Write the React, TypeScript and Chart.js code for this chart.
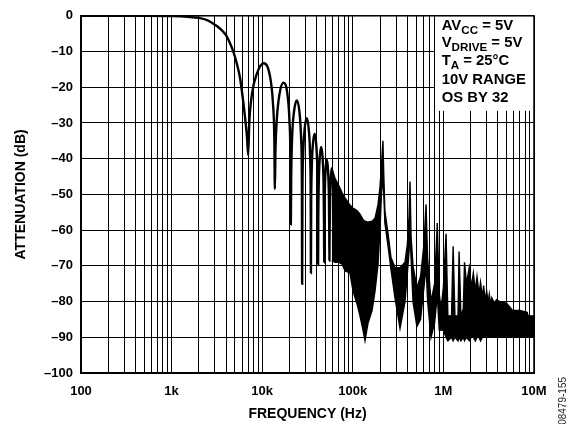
import React, { useEffect, useRef } from 'react';
import { Chart, registerables } from 'chart.js';

Chart.register(...registerables);

// Clearly resolved part of the response (passband, main lobe and the first side lobes)
const LOBE_FREQ = [
  100, 500, 1000, 1500, 2000, 2500, 3000, 3500, 4000, 4400, 4800, 5200, 5700, 6100, 6500, 6800,
  7000, 7200, 7700, 8700, 10400, 12100, 13100, 13600,
  13800, 14000, 14500, 15500, 17200, 19000, 20000, 20500,
  20700, 20900, 21400, 22400, 24100, 25800, 26900, 27400,
  27600, 27800, 28300, 29300, 31000, 32700, 33800, 34300,
  34500, 34700, 35200, 36200, 37900, 39600, 40700, 41200,
  41400, 41600, 42100, 43100, 44800, 46500, 47600, 48100,
  48300, 48500, 49000, 50000, 51700, 53400, 54500, 55000,
  55200, 55400, 56000, 57000, 58600, 60200, 61200, 61900, 62100,
];
const LOBE_DB = [
  0, 0, -0.1, -0.3, -0.6, -1.3, -2.5, -3.8, -5.5, -7.6, -10, -13, -17.5, -23, -29, -34,
  -39, -30, -22, -16.3, -13.3, -16.5, -24, -34,
  -48.5, -38, -29, -22, -18.7, -22, -29.5, -40,
  -58.4, -45, -34, -27, -23.7, -27, -34.5, -46,
  -75, -50, -39, -32, -28.7, -32, -39.5, -51,
  -72, -54, -43, -36.3, -33, -36.5, -44, -55,
  -69.5, -57, -47, -40, -36.7, -40, -47.5, -58,
  -69, -60, -50.5, -43.6, -40.3, -43.6, -51, -61,
  -68.5, -62, -53, -46, -42.7, -46, -53, -63, -68,
];

// Dense (unresolved) region: upper and lower envelope of the black band
const ENV_FREQ = [
  58600, 63600, 70000, 76000, 82100, 93000, 100500, 111200, 120000, 129600, 136400, 147200,
  163000, 176000, 190000, 199500, 207000, 215000, 220000, 226000, 245000, 264000, 292000,
  332000, 377000, 400000, 418000, 428000, 440000, 462000, 510000, 560000, 610000, 643000,
  670000, 730000, 800000, 856000, 900000, 941000, 1000000,
  1070000, 1120000, 1230000, 1280000, 1340000, 1450000, 1490000, 1560000, 1660000, 1710000,
  1800000, 1930000, 2030000, 2140000, 2250000, 2350000, 2470000, 2570000, 2700000, 2780000,
  2900000, 3000000, 3120000, 3210000, 3330000, 3420000, 3650000, 3850000,
  4200000, 5000000, 5800000, 7000000, 8400000, 8600000, 10000000,
];
const ENV_UPPER = [
  -42.7, -45.5, -47.5, -49.5, -51, -53, -53.8, -54.5, -55.5, -57, -57.5, -57.8,
  -57.5, -56.7, -52.8, -48, -42, -35, -45, -54.7, -61, -67.7, -70.5,
  -70.5, -69, -64, -56, -46.4, -62, -70, -76, -73, -64, -52.8,
  -68, -80, -75, -58, -78, -82, -76,
  -61, -84, -84, -64.5, -84, -84, -66, -84, -82, -69,
  -75, -70.5, -76, -72, -77, -73, -78, -74.6, -79, -75.5,
  -80, -77, -80.5, -78, -81, -79, -80.5, -79.5,
  -80, -80.5, -82.5, -82.5, -83, -84, -84,
];
const ENV_LOWER = [
  -68.5, -69, -69, -69.5, -71.4, -72, -77, -80.6, -84, -88, -91, -86,
  -82.5, -77, -69.5, -60, -50, -45, -50, -58, -64.5, -71, -79,
  -87.5, -80, -72, -66, -60, -68, -80, -87, -85, -76, -70,
  -80, -90, -86, -78, -88, -88, -88,
  -90, -91, -90, -91, -90, -91, -90, -91, -90, -91,
  -90, -91, -90, -90, -91, -90, -90, -91, -90, -90,
  -90, -90, -90, -90, -90, -90, -90, -90,
  -90, -90, -90, -90, -90, -90, -90,
];

const DECADES = [100, 1000, 10000, 100000, 1000000, 10000000];
const DECADE_LABELS = ['100', '1k', '10k', '100k', '1M', '10M'];
const MULTIPLES = [1, 2, 3, 4, 5, 6, 7, 8, 9];
const Y_MIN = -100;
const Y_MAX = 0;
const Y_STEP = 10;

const X_TITLE = 'FREQUENCY (Hz)';
const Y_TITLE = 'ATTENUATION (dB)';
const NOTE_LINES = [
  { main: 'AV', sub: 'CC', rest: ' = 5V' },
  { main: 'V', sub: 'DRIVE', rest: ' = 5V' },
  { main: 'T', sub: 'A', rest: ' = 25°C' },
  { main: '10V RANGE', sub: '', rest: '' },
  { main: 'OS BY 32', sub: '', rest: '' },
];
const FIGURE_ID = '08479-155';

const FONT = '"Liberation Sans", Arial, Helvetica, sans-serif';

const X_TICKS: number[] = [];
DECADES.forEach((d, i) => {
  if (i < DECADES.length - 1) MULTIPLES.forEach((m) => X_TICKS.push(m * d));
  else X_TICKS.push(d);
});

const notePlugin = {
  id: 'notes',
  afterDatasetsDraw(chart: any) {
    const { ctx, chartArea: a } = chart;
    ctx.save();
    // white note box in the top-right corner
    const boxW = 99;
    const boxH = 95;
    ctx.fillStyle = '#fff';
    ctx.fillRect(a.right - boxW, a.top, boxW, boxH);
    // note text
    const baselines = [30, 47, 64.5, 83.5, 102];
    const x0 = a.right - 92.3;
    ctx.fillStyle = '#000';
    ctx.textBaseline = 'alphabetic';
    ctx.textAlign = 'left';
    NOTE_LINES.forEach((ln, i) => {
      ctx.save();
      ctx.translate(x0, baselines[i]);
      ctx.scale(1.06, 1);
      let x = 0;
      ctx.font = `bold 14px ${FONT}`;
      ctx.fillText(ln.main, x, 0);
      x += ctx.measureText(ln.main).width;
      if (ln.sub) {
        ctx.font = `bold 11px ${FONT}`;
        ctx.fillText(ln.sub, x, 4);
        x += ctx.measureText(ln.sub).width;
      }
      if (ln.rest) {
        ctx.font = `bold 14px ${FONT}`;
        ctx.fillText(ln.rest, x, 0);
      }
      ctx.restore();
    });
    // plot frame
    ctx.strokeStyle = '#000';
    ctx.lineWidth = 1.5;
    ctx.strokeRect(a.left, a.top, a.right - a.left, a.bottom - a.top);
    // figure id
    ctx.translate(566, 377);
    ctx.rotate(-Math.PI / 2);
    ctx.font = `10px ${FONT}`;
    ctx.fillStyle = '#222';
    ctx.textAlign = 'right';
    ctx.fillText(FIGURE_ID, 0, 0);
    ctx.restore();
  },
};

export default function App() {
  const canvasRef = useRef<HTMLCanvasElement | null>(null);

  useEffect(() => {
    if (!canvasRef.current) return;
    const tickFont = { family: FONT, size: 13, weight: 'bold' as const };
    const titleFont = { family: FONT, size: 14, weight: 'bold' as const };
    const chart = new Chart(canvasRef.current, {
      type: 'line',
      data: {
        datasets: [
          {
            data: LOBE_FREQ.map((x, i) => ({ x, y: LOBE_DB[i] })),
            borderColor: '#000',
            borderWidth: 2.4,
            pointRadius: 0,
            cubicInterpolationMode: 'monotone',
            fill: false,
          },
          {
            data: ENV_FREQ.map((x, i) => ({ x, y: ENV_UPPER[i] })),
            borderColor: '#000',
            borderWidth: 1.4,
            pointRadius: 0,
            tension: 0,
            fill: false,
          },
          {
            data: ENV_FREQ.map((x, i) => ({ x, y: ENV_LOWER[i] })),
            borderColor: '#000',
            backgroundColor: '#000',
            borderWidth: 1.4,
            pointRadius: 0,
            tension: 0,
            fill: '-1',
          },
        ],
      },
      options: {
        responsive: false,
        animation: false,
        events: [],
        layout: { padding: { top: 13, right: 40, left: 0, bottom: 0 } },
        plugins: {
          legend: { display: false },
          tooltip: { enabled: false },
        },
        scales: {
          x: {
            type: 'logarithmic',
            min: DECADES[0],
            max: DECADES[DECADES.length - 1],
            afterBuildTicks: (s: any) => {
              s.ticks = X_TICKS.map((v) => ({ value: v }));
            },
            afterFit: (s: any) => {
              s.height = 51;
            },
            ticks: {
              autoSkip: false,
              maxRotation: 0,
              minRotation: 0,
              padding: 11,
              color: '#000',
              font: tickFont,
              callback: (v: any) => {
                const idx = DECADES.indexOf(Number(v));
                return idx >= 0 ? DECADE_LABELS[idx] : '';
              },
            },
            grid: { color: '#000', lineWidth: 1, drawTicks: false },
            border: { color: '#000', width: 2 },
            title: {
              display: true,
              text: X_TITLE,
              color: '#000',
              font: titleFont,
              padding: { top: 0, bottom: 1 },
            },
          },
          y: {
            type: 'linear',
            min: Y_MIN,
            max: Y_MAX,
            afterFit: (s: any) => {
              s.width = 81;
            },
            ticks: {
              stepSize: Y_STEP,
              padding: 8,
              color: '#000',
              font: tickFont,
              callback: (v: any) => (Number(v) === 0 ? '0' : '\u2013' + Math.abs(Number(v))),
            },
            grid: { color: '#000', lineWidth: 1, drawTicks: false },
            border: { color: '#000', width: 2 },
            title: {
              display: true,
              text: Y_TITLE,
              color: '#000',
              font: titleFont,
              padding: { top: 13, bottom: 0 },
            },
          },
        },
      } as any,
      plugins: [notePlugin],
    });
    return () => chart.destroy();
  }, []);

  return (
    <div style={{ position: 'absolute', left: 0, top: 0, width: 574, height: 424, background: '#fff' }}>
      <canvas ref={canvasRef} width={574} height={424} style={{ display: 'block' }} />
    </div>
  );
}
